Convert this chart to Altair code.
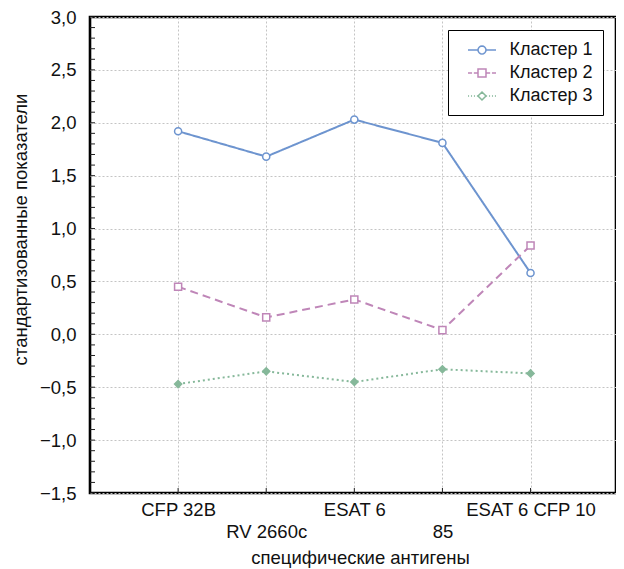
import math
import altair as alt
import pandas as pd

# ---- data ----
antigens = ["CFP 32B", "RV 2660c", "ESAT 6", "85", "ESAT 6 CFP 10"]
clusters = ["Кластер 1", "Кластер 2", "Кластер 3"]
cluster1 = [1.92, 1.68, 2.03, 1.81, 0.58]
cluster2 = [0.45, 0.16, 0.33, 0.04, 0.84]
cluster3 = [-0.47, -0.35, -0.45, -0.33, -0.37]
y_ticks = [-1.5, -1.0, -0.5, 0.0, 0.5, 1.0, 1.5, 2.0, 2.5, 3.0]
minor_ticks = [round(-1.5 + 0.1 * i, 1) for i in range(46)]

colors = ["#6d94cf", "#bf86b8", "#86b89a"]
FONT = "Liberation Sans"
FS = 18.5

W, H = 526, 476

rows = []
for c, vals in zip(clusters, [cluster1, cluster2, cluster3]):
    for i, (a, v) in enumerate(zip(antigens, vals)):
        rows.append({"pos": i + 1, "antigen": a, "cluster": c, "value": v})
df = pd.DataFrame(rows)

positions = list(range(1, len(antigens) + 1))
items = ["''"]
for i, a in enumerate(antigens):
    items.append(f"'{a}'" if i % 2 == 0 else f"['', '{a}']")
items.append("''")
label_expr = "[" + ",".join(items) + "][datum.value]"

x_axis = alt.Axis(
    values=positions, labelExpr=label_expr, labelOverlap=False, labelFlush=False,
    grid=True, gridDash=[2, 2], gridColor="#c4c4c4", domain=False, ticks=False,
    labelPadding=7, labelBaseline="top", labelLineHeight=22, labelFontSize=FS,
    title="специфические антигены", titleFontSize=FS, titleFontWeight="normal",
    titleX=270, titleY=70, titleBaseline="alphabetic", titleAnchor="start", titleAlign="center",
)
y_axis = alt.Axis(
    values=y_ticks, labelExpr="replace(format(datum.value, '.1f'), '.', ',')",
    labelOverlap=False, labelFlush=False,
    grid=True, gridDash=[2, 2], gridColor="#c4c4c4", domain=False, ticks=False,
    labelPadding=14, labelFontSize=FS,
    title="стандартизованные показатели", titleFontSize=FS, titleFontWeight="normal",
    titleX=-70, titleY=212, titleAngle=270, titleAlign="center", titleBaseline="middle",
)
x_enc = alt.X("pos:Q", scale=alt.Scale(domain=[0, 5.97], nice=False, zero=False), axis=x_axis)
y_enc = alt.Y("value:Q", scale=alt.Scale(domain=[-1.5, 3.0], nice=False, zero=False), axis=y_axis)

color_scale = alt.Scale(domain=clusters, range=colors)

lines = alt.Chart(df).mark_line(strokeWidth=2).encode(
    x=x_enc, y=y_enc,
    color=alt.Color("cluster:N", scale=color_scale, legend=None),
    strokeDash=alt.StrokeDash("cluster:N", scale=alt.Scale(domain=clusters, range=[[1, 0], [8, 5], [2, 3]]), legend=None),
)

points = alt.Chart(df).mark_point(strokeWidth=1.5, size=50, opacity=1).encode(
    x=x_enc, y=y_enc,
    color=alt.Color("cluster:N", scale=color_scale, legend=None),
    fill=alt.Fill("cluster:N", scale=alt.Scale(domain=clusters, range=["white", "white", colors[2]]), legend=None),
    shape=alt.Shape("cluster:N", scale=alt.Scale(domain=clusters, range=["circle", "square", "diamond"]), legend=None),
)

# legend symbols: line + marker drawn as custom paths (unit = 9 px)
L = 14 / 9.0   # half length of the line
m = 4 / 9.0    # half size of the marker
circ = "M" + "L".join(
    f"{m*math.cos(k*math.pi/8):.3f},{m*math.sin(k*math.pi/8):.3f}" for k in range(16)
) + "Z"


def segs(pairs):
    return "".join(f"M{a:.3f},0H{b:.3f}" for a, b in pairs)


dash2 = [(-L, -L + 0.45), (-L + 0.65, -m), (m, L - 0.65), (L - 0.45, L)]
dots = []
x = -L
while x < -m - 0.05:
    dots.append((x, min(x + 0.12, -m)))
    x += 0.33
dots += [(-b, -a) for a, b in dots]
sym_paths = [
    segs([(-L, -m), (m, L)]) + circ,
    segs(dash2) + f"M{-m:.3f},{-m:.3f}H{m:.3f}V{m:.3f}H{-m:.3f}Z",
    segs(dots) + f"M0,{-m:.3f}L{m:.3f},0L0,{m:.3f}L{-m:.3f},0Z",
]
leg = alt.Legend(
    title=None, orient="none", legendX=358, legendY=13,
    strokeColor="black", fillColor="white", padding=10,
    labelFontSize=18, labelColor="#111", labelFont=FONT,
    symbolSize=324, symbolStrokeWidth=1.5, rowPadding=4, labelOffset=17.5, symbolOffset=14,
)
legend_layer = alt.Chart(df).mark_point(strokeWidth=1.5, size=324, filled=False, opacity=1).encode(
    color=alt.Color("cluster:N", scale=alt.Scale(domain=clusters, range=colors), legend=leg),
    shape=alt.Shape("cluster:N", scale=alt.Scale(domain=clusters, range=sym_paths), legend=leg),
).transform_filter("false")

ytick_df = pd.DataFrame({"value": minor_ticks})
yticks = alt.Chart(ytick_df).mark_rule(color="#222", strokeWidth=1).encode(
    y=y_enc, x=alt.value(0), x2=alt.value(5)
)
xtick_df = pd.DataFrame({"pos": positions})
xticks = alt.Chart(xtick_df).mark_rule(color="#222", strokeWidth=1).encode(
    x=x_enc, y=alt.value(H), y2=alt.value(H - 5)
)

chart = alt.layer(yticks, xticks, lines, points, legend_layer).resolve_scale(
    color="independent", shape="independent"
).properties(
    width=W, height=H,
    padding={"left": 82, "top": 9, "right": 0, "bottom": 77},
    autosize=alt.AutoSizeParams(type="none"),
).configure(font=FONT).configure_axis(
    labelColor="#111", titleColor="#111", labelFont=FONT, titleFont=FONT
).configure_view(stroke="black", strokeWidth=2.6)

chart.save("out.html", embed_options={"renderer": "svg", "actions": False})
